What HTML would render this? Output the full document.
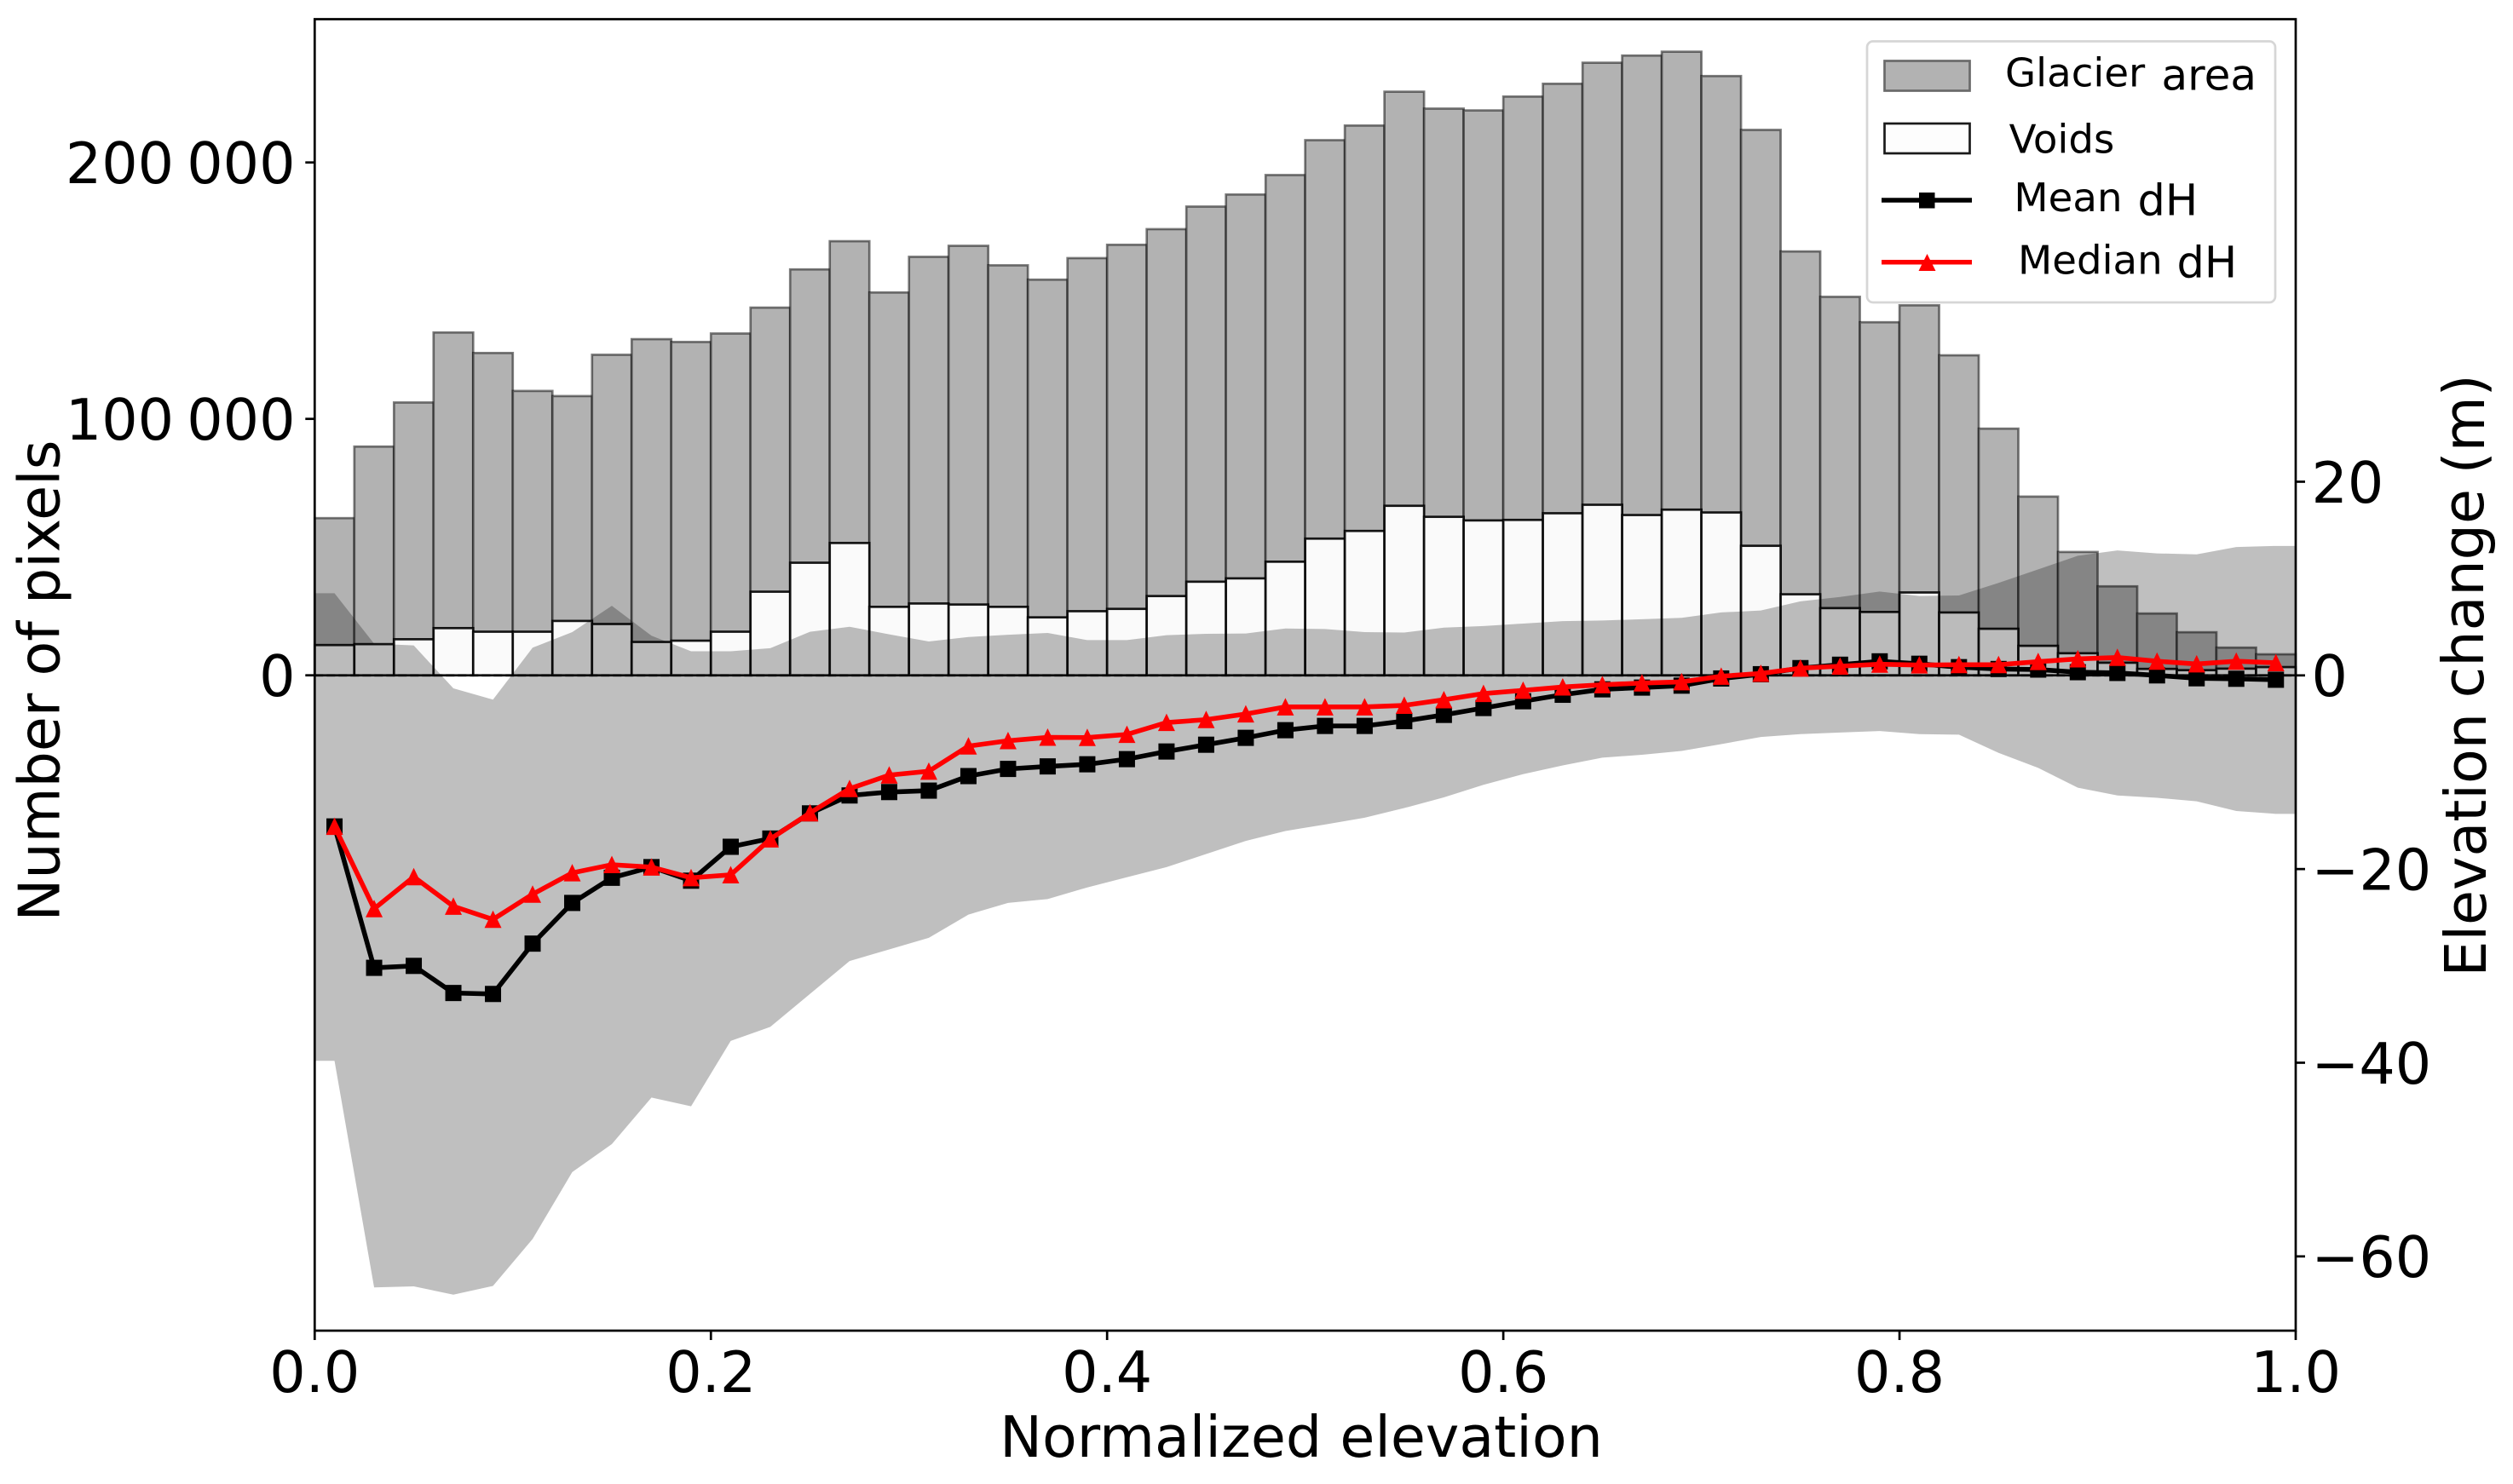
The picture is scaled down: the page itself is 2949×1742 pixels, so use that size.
<!DOCTYPE html>
<html lang="en">
<head>
<meta charset="utf-8">
<title>Glacier hypsometry and elevation change</title>
<style>
html,body{margin:0;padding:0;background:#fff;}
svg{display:block;}
text{font-family:"DejaVu Sans","Liberation Sans",sans-serif;fill:#000;}
</style>
</head>
<body>
<svg id="chart" xmlns="http://www.w3.org/2000/svg" width="2949" height="1742" viewBox="0 0 2949 1742">
  <rect x="0" y="0" width="2949" height="1742" fill="#ffffff"/>
  <g id="bars-glacier"></g>
  <g id="bars-voids"></g>
  <g id="band"></g>
  <g id="lines"></g>
  <g id="axes"></g>

  <text x="1527" y="1710" font-size="66.67" text-anchor="middle">Normalized elevation</text>
  <text transform="translate(69.5 799) rotate(-90)" font-size="66.67" text-anchor="middle" word-spacing="-1">Number of pixels</text>
  <text transform="translate(2915 793) rotate(-90)" font-size="66.67" text-anchor="middle" word-spacing="-3.5"><tspan dy="2">Elevation</tspan> <tspan dy="-3">change</tspan> <tspan dy="1">(m)</tspan></text>

  <g>
    <rect x="2191" y="48.5" width="479" height="306.5" rx="7" ry="7" fill="#ffffff" fill-opacity="0.8" stroke="#d6d6d6" stroke-width="2.7"/>
    <rect x="2211.5" y="71.5" width="100" height="35" fill="#b2b2b2" stroke="#6a6a6a" stroke-width="2.7"/>
    <text x="2353" y="101.7" font-size="46.67">Glacier</text>
    <text x="2536.5" y="105.7" font-size="50">area</text>
    <rect x="2211.5" y="145" width="100" height="35" fill="#fdfdfd" stroke="#1a1a1a" stroke-width="2.7"/>
    <text x="2357.6" y="179.3" font-size="46.67">Voids</text>
    <line x1="2208" x2="2314" y1="235" y2="235" stroke="#000" stroke-width="5.5"/>
    <rect x="2252" y="226" width="18.5" height="18.5" fill="#000"/>
    <text x="2363.4" y="248" font-size="46.67">Mean</text>
    <text x="2508.5" y="252.3" font-size="51">dH</text>
    <line x1="2208" x2="2314" y1="307.7" y2="307.7" stroke="#ff0000" stroke-width="5.5"/>
    <polygon points="2261.5,298 2271.5,318 2251.5,318" fill="#ff0000"/>
    <text x="2368" y="321.7" font-size="46.67">Median</text>
    <text x="2554.5" y="325.7" font-size="51">dH</text>
  </g>
</svg>
<script>
const glacierCounts = [61300,89200,106400,133700,125700,110900,108900,125000,131100,130000,133300,143400,158300,169300,149300,163200,167500,159900,154300,162700,167900,174000,182800,187500,195100,208700,214400,227600,221000,220300,225700,230700,238900,241700,243200,233700,212700,165300,147600,137700,144300,124800,96200,69700,48100,34700,24100,16800,10800,8200];
const voidCounts = [11800,12150,14060,18400,17000,17000,21200,20000,13000,13500,17000,32600,43900,51600,26700,28000,27600,26700,22600,25000,25900,30900,36500,37800,44300,53300,56300,66100,61800,60400,60600,63200,66500,62500,64600,63500,50500,31600,26200,24700,32300,24500,18150,11500,8600,4900,2500,2000,2600,3200];
const bandUpper = [8.48,3.27,3.09,-1.34,-2.5,2.86,4.47,7.19,4.1,2.49,2.49,2.81,4.5,5.02,4.24,3.5,3.96,4.19,4.38,3.64,3.64,4.15,4.29,4.33,4.84,4.79,4.47,4.42,4.93,5.1,5.35,5.6,5.67,5.8,5.94,6.5,6.7,7.65,8.1,8.66,8.2,8.25,9.55,10.95,12.35,12.9,12.6,12.5,13.26,13.37];
const bandLower = [-39.8,-63.2,-63.1,-63.95,-63.05,-58.2,-51.3,-48.4,-43.6,-44.5,-37.75,-36.3,-32.9,-29.5,-28.3,-27.1,-24.7,-23.5,-23.1,-21.9,-20.85,-19.8,-18.45,-17.1,-16.07,-15.4,-14.7,-13.7,-12.6,-11.3,-10.2,-9.3,-8.5,-8.2,-7.8,-7.1,-6.36,-6.07,-5.9,-5.75,-6.07,-6.12,-8,-9.55,-11.6,-12.4,-12.64,-13,-14,-14.3];
const meanDh = [-15.6,-30.2,-30,-32.8,-32.9,-27.7,-23.5,-20.9,-19.8,-21.2,-17.7,-16.85,-14.25,-12.4,-12.05,-11.9,-10.4,-9.66,-9.4,-9.18,-8.65,-7.86,-7.16,-6.45,-5.66,-5.22,-5.22,-4.72,-4.08,-3.37,-2.67,-2,-1.44,-1.26,-1.06,-0.32,0.12,0.75,1.1,1.45,1.2,0.85,0.66,0.6,0.33,0.25,0,-0.3,-0.35,-0.45];
const medianDh = [-15.6,-24.1,-20.8,-23.85,-25.2,-22.6,-20.4,-19.55,-19.8,-20.9,-20.6,-16.9,-14.2,-11.7,-10.3,-9.9,-7.3,-6.75,-6.4,-6.42,-6.1,-4.87,-4.57,-3.99,-3.26,-3.26,-3.26,-3.1,-2.52,-1.88,-1.55,-1.2,-0.97,-0.79,-0.67,-0.09,0.2,0.74,0.95,1.15,1.07,1.1,1.1,1.42,1.7,1.85,1.46,1.18,1.46,1.3];
const xTicks = [0,0.2,0.4,0.6,0.8,1];
const xTickLabels = ["0.0","0.2","0.4","0.6","0.8","1.0"];
const leftTicks = [0,100000,200000];
const leftTickLabels = ["0","100 000","200 000"];
const rightTicks = [20,0,-20,-40,-60];
const rightTickLabels = ["20","0","\u221220","\u221240","\u221260"];

const SVG_NS = "http://www.w3.org/2000/svg";
const plotLeft = 369.3, plotRight = 2694, plotTop = 22.5, plotBottom = 1562;
const countZeroY = 792.7, pxPerCount = 301 / 100000;
const dhZeroY = 792.8, pxPerMetre = 11.367;
const binCount = glacierCounts.length;

function xScale(v) { return plotLeft + v * (plotRight - plotLeft); }
function yCount(v) { return countZeroY - v * pxPerCount; }
function yDh(v) { return dhZeroY - v * pxPerMetre; }
function binCentre(i) { return (i + 0.5) / binCount; }
function make(tag, parent) {
  const el = document.createElementNS(SVG_NS, tag);
  parent.appendChild(el);
  return el;
}

const glacierGroup = document.getElementById("bars-glacier");
glacierCounts.forEach(function (value, i) {
  const r = make("rect", glacierGroup);
  
  
  r.setAttribute("x", xScale(i / binCount));
  r.setAttribute("y", yCount(value));
  r.setAttribute("width", xScale(1 / binCount) - xScale(0));
  r.setAttribute("height", countZeroY - yCount(value));
  r.setAttribute("fill", "#b2b2b2");
  r.setAttribute("stroke", "#000");
  r.setAttribute("stroke-opacity", "0.5");
  r.setAttribute("stroke-width", "2.7");
});

const voidGroup = document.getElementById("bars-voids");
voidCounts.forEach(function (value, i) {
  const r = make("rect", voidGroup);
  
  
  r.setAttribute("x", xScale(i / binCount));
  r.setAttribute("y", yCount(value));
  r.setAttribute("width", xScale(1 / binCount) - xScale(0));
  r.setAttribute("height", countZeroY - yCount(value));
  r.setAttribute("fill", "#fafafa");
  r.setAttribute("stroke", "#000");
  r.setAttribute("stroke-opacity", "0.9");
  r.setAttribute("stroke-width", "2.7");
});

const bandGroup = document.getElementById("band");
const bandPoints = [];
bandPoints.push(xScale(0) + "," + yDh(bandUpper[0]));
bandUpper.forEach(function (v, i) { bandPoints.push(xScale(binCentre(i)) + "," + yDh(v)); });
bandPoints.push(xScale(1) + "," + yDh(bandUpper[binCount - 1]));
bandPoints.push(xScale(1) + "," + yDh(bandLower[binCount - 1]));
for (let i = binCount - 1; i >= 0; i--) { bandPoints.push(xScale(binCentre(i)) + "," + yDh(bandLower[i])); }
bandPoints.push(xScale(0) + "," + yDh(bandLower[0]));
const bandShape = make("polygon", bandGroup);


bandShape.setAttribute("points", bandPoints.join(" "));
bandShape.setAttribute("fill", "#000");
bandShape.setAttribute("fill-opacity", "0.25");

const lineGroup = document.getElementById("lines");
const zeroLine = make("line", lineGroup);


zeroLine.setAttribute("x1", xScale(0));
zeroLine.setAttribute("x2", xScale(1));
zeroLine.setAttribute("y1", yDh(0));
zeroLine.setAttribute("y2", yDh(0));
zeroLine.setAttribute("stroke", "#000");
zeroLine.setAttribute("stroke-width", "2.7");
zeroLine.setAttribute("stroke-dasharray", "10 4");

const meanLine = make("polyline", lineGroup);


meanLine.setAttribute("points", meanDh.map(function (v, i) { return xScale(binCentre(i)) + "," + yDh(v); }).join(" "));
meanLine.setAttribute("fill", "none");
meanLine.setAttribute("stroke", "#000");
meanLine.setAttribute("stroke-width", "5.6");
meanDh.forEach(function (v, i) {
  const m = make("rect", lineGroup);
  
  
  m.setAttribute("x", xScale(binCentre(i)) - 9.5);
  m.setAttribute("y", yDh(v) - 9.5);
  m.setAttribute("width", 19);
  m.setAttribute("height", 19);
  m.setAttribute("fill", "#000");
});

const medianLine = make("polyline", lineGroup);


medianLine.setAttribute("points", medianDh.map(function (v, i) { return xScale(binCentre(i)) + "," + yDh(v); }).join(" "));
medianLine.setAttribute("fill", "none");
medianLine.setAttribute("stroke", "#ff0000");
medianLine.setAttribute("stroke-width", "5.6");
medianDh.forEach(function (v, i) {
  const cx = xScale(binCentre(i));
  const cy = yDh(v);
  const m = make("polygon", lineGroup);
  
  
  m.setAttribute("points", cx + "," + (cy - 10.5) + " " + (cx + 10) + "," + (cy + 10) + " " + (cx - 10) + "," + (cy + 10));
  m.setAttribute("fill", "#ff0000");
});

const axesGroup = document.getElementById("axes");
const frame = make("rect", axesGroup);


frame.setAttribute("x", plotLeft);
frame.setAttribute("y", plotTop);
frame.setAttribute("width", plotRight - plotLeft);
frame.setAttribute("height", plotBottom - plotTop);
frame.setAttribute("fill", "none");
frame.setAttribute("stroke", "#000");
frame.setAttribute("stroke-width", "2.7");

xTicks.forEach(function (v, i) {
  const t = make("line", axesGroup);
  
  
  t.setAttribute("x1", xScale(v));
  t.setAttribute("x2", xScale(v));
  t.setAttribute("y1", plotBottom);
  t.setAttribute("y2", plotBottom + 11);
  t.setAttribute("stroke", "#000");
  t.setAttribute("stroke-width", "2.7");
  const l = make("text", axesGroup);
  
  
  l.setAttribute("x", xScale(v));
  l.setAttribute("y", 1634);
  l.setAttribute("font-size", "66.67");
  l.setAttribute("text-anchor", "middle");
  l.textContent = xTickLabels[i];
});

leftTicks.forEach(function (v, i) {
  const t = make("line", axesGroup);
  
  
  t.setAttribute("x1", plotLeft - 11);
  t.setAttribute("x2", plotLeft);
  t.setAttribute("y1", yCount(v));
  t.setAttribute("y2", yCount(v));
  t.setAttribute("stroke", "#000");
  t.setAttribute("stroke-width", "2.7");
  const l = make("text", axesGroup);
  
  
  l.setAttribute("x", 346.5);
  l.setAttribute("y", yCount(v) + 24.3);
  l.setAttribute("font-size", "66.67");
  l.setAttribute("text-anchor", "end");
  l.setAttribute("word-spacing", "-6");
  l.textContent = leftTickLabels[i];
});

rightTicks.forEach(function (v, i) {
  const t = make("line", axesGroup);
  
  
  t.setAttribute("x1", plotRight);
  t.setAttribute("x2", plotRight + 11);
  t.setAttribute("y1", yDh(v));
  t.setAttribute("y2", yDh(v));
  t.setAttribute("stroke", "#000");
  t.setAttribute("stroke-width", "2.7");
  const l = make("text", axesGroup);
  
  
  l.setAttribute("x", 2712.5);
  l.setAttribute("y", yDh(v) + 24.3);
  l.setAttribute("font-size", "66.67");
  l.textContent = rightTickLabels[i];
});
</script>
</body>
</html>
